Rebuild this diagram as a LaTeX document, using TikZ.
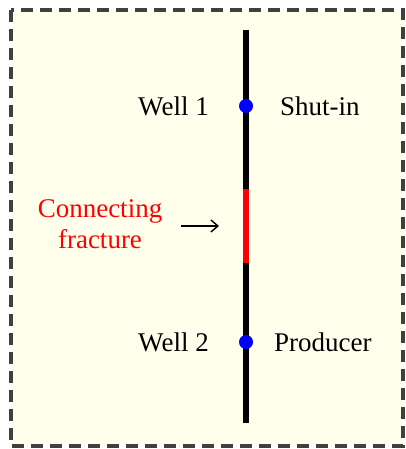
\documentclass[tikz,border=0pt]{standalone}
\usepackage{fontspec}
\setmainfont{Liberation Serif}
\newfontfamily\labelfont{Liberation Serif}
\usetikzlibrary{arrows.meta}
\definecolor{paper}{RGB}{255,255,235}
\definecolor{frame}{RGB}{64,64,64}
\definecolor{wellblue}{RGB}{0,0,255}
\begin{document}
\begin{tikzpicture}[x=1pt,y=-1pt,
  lbl/.style={font=\labelfont\fontsize{27}{31}\selectfont, inner sep=0pt},
  wellline/.style={line width=6.5pt, black},
  dot/.style={circle, fill=wellblue, inner sep=0pt, minimum size=14pt}]
  \useasboundingbox (0,0) rectangle (406,449);
  % dashed frame around the field
  \draw[frame, fill=paper, line width=4pt, dash pattern=on 12pt off 7pt]
    (11,10) rectangle (403,446);
  % wellbore trace
  \coordinate (top) at (246,30);
  \coordinate (fractop) at (246,189);
  \coordinate (fracbot) at (246,263);
  \coordinate (bot) at (246,423);
  \draw[wellline] (top) -- (fractop);
  \draw[wellline, red] (fractop) -- (fracbot);
  \draw[wellline] (fracbot) -- (bot);
  % wells
  \node[dot] (w1) at (246,106) {};
  \node[dot] (w2) at (246,342) {};
  \node[lbl, anchor=east] (w1l) at (209,106) {Well 1};
  \node[lbl, anchor=west] (w1r) at (280,106) {Shut-in};
  \node[lbl, anchor=east] (w2l) at (209,342) {Well 2};
  \node[lbl, anchor=west] (w2r) at (274,342) {Producer};
  % fracture label and pointer
  \node[lbl, red, align=center] (frac) at (100,224) {Connecting\\fracture};
  \coordinate (arrs) at (181,226);
  \coordinate (arre) at (219,226);
  \draw[-{Straight Barb[length=7pt,width=12pt]}, line width=1.4pt] (arrs) -- (arre);
\end{tikzpicture}
\end{document}
